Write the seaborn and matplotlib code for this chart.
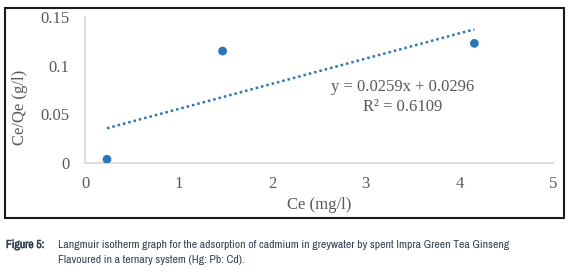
import numpy as np
import pandas as pd
import seaborn as sns
import matplotlib.pyplot as plt
from matplotlib import font_manager
import matplotlib.patheffects as pe
from matplotlib.patches import Rectangle

# dati
ce = [0.235, 1.47, 4.16]
ce_qe = [0.0038, 0.115, 0.1229]
slope = 0.0259
intercept = 0.0296
r2 = 0.6109
x_ticks = [0, 1, 2, 3, 4, 5]
y_ticks = [0, 0.05, 0.1, 0.15]
y_tick_labels = ["0", "0.05", "0.1", "0.15"]

sns.set_theme(style="white")
serif = "Liberation Serif"
plt.rcParams["font.family"] = [serif, "DejaVu Serif"]

# cerca un font sans stretto per la didascalia
narrow, stretch = None, "normal"
for f in font_manager.fontManager.ttflist:
    n = f.name
    if "Mono" in n or "Serif" in n:
        continue
    if "Narrow" in n or "Condensed" in n:
        narrow, stretch = n, "normal"
        break
    if str(f.stretch) in ("condensed", "semi-condensed", "extra-condensed"):
        narrow, stretch = n, str(f.stretch)
if narrow is None:
    narrow = "Liberation Sans"
    cap_size = 7.2
else:
    cap_size = 8.4

W, H = 578, 274
fig = plt.figure(figsize=(W / 100, H / 100), dpi=100)
fig.patch.set_facecolor("white")

# cornice del grafico
fig.patches.append(Rectangle((5 / W, 1 - 218 / H), 559 / W, 210 / H,
                             transform=fig.transFigure, fill=False,
                             edgecolor="#1a1a1a", linewidth=1.5))

ax = fig.add_axes([85 / W, 1 - 163 / H, (553 - 85) / W, (163 - 17) / H])
df = pd.DataFrame({"ce": ce, "ce_qe": ce_qe})
sns.scatterplot(data=df, x="ce", y="ce_qe", ax=ax, color="#2e75b6", s=40,
                edgecolor="none", zorder=3)

fit = pd.DataFrame({"x": [min(ce), max(ce)]})
fit["y"] = slope * fit["x"] + intercept
sns.lineplot(data=fit, x="x", y="y", ax=ax, color="#2e75b6",
             linestyle=(0, (1, 1.2)), linewidth=1.8)

ax.set_xlim(0, 5)
ax.set_ylim(0, 0.15)
ax.set_xticks(x_ticks)
ax.set_yticks(y_ticks)
ax.set_yticklabels(y_tick_labels)
ax.tick_params(axis="both", length=0, labelsize=12, labelcolor="#595959")
ax.tick_params(axis="y", pad=11)
ax.tick_params(axis="x", pad=9)
for s in ["top", "right"]:
    ax.spines[s].set_visible(False)
for s in ["left", "bottom"]:
    ax.spines[s].set_color("#d9d9d9")
    ax.spines[s].set_linewidth(1.2)
ax.set_xlabel("")
ax.set_ylabel("")
ax.patch.set_alpha(0)

fig.text(319 / W, 1 - 205 / H, "Ce (mg/l)", ha="center", va="center",
         fontsize=12, color="#595959")
fig.text(20 / W, 1 - 107 / H, "Ce/Qe (g/l)", ha="center", va="center",
         rotation=90, fontsize=12, color="#595959")

ax.text(403 / W, 1 - 87 / H, f"y = {slope}x + {intercept}", transform=fig.transFigure,
        ha="center", va="center", fontsize=12, color="#595959")
ax.text(403 / W, 1 - 107 / H, f"R² = {r2}", transform=fig.transFigure,
        ha="center", va="center", fontsize=12, color="#595959")

# didascalia
cap_color = "#334052"
cap_font = dict(family=[narrow, "DejaVu Sans"], fontstretch=stretch,
                fontsize=cap_size, color=cap_color)
fig.text(6 / W, 1 - 245 / H, "Figure 5:", ha="left", va="center",
         fontweight="bold", path_effects=[pe.withStroke(linewidth=0.35, foreground=cap_color)],
         **cap_font)
fig.text(58 / W, 1 - 245 / H,
         "Langmuir isotherm graph for the adsorption of cadmium in greywater by spent Impra Green Tea Ginseng",
         ha="left", va="center", **cap_font)
fig.text(58 / W, 1 - 260 / H, "Flavoured in a ternary system (Hg: Pb: Cd).",
         ha="left", va="center", **cap_font)

fig.savefig("out.png", dpi=100)
